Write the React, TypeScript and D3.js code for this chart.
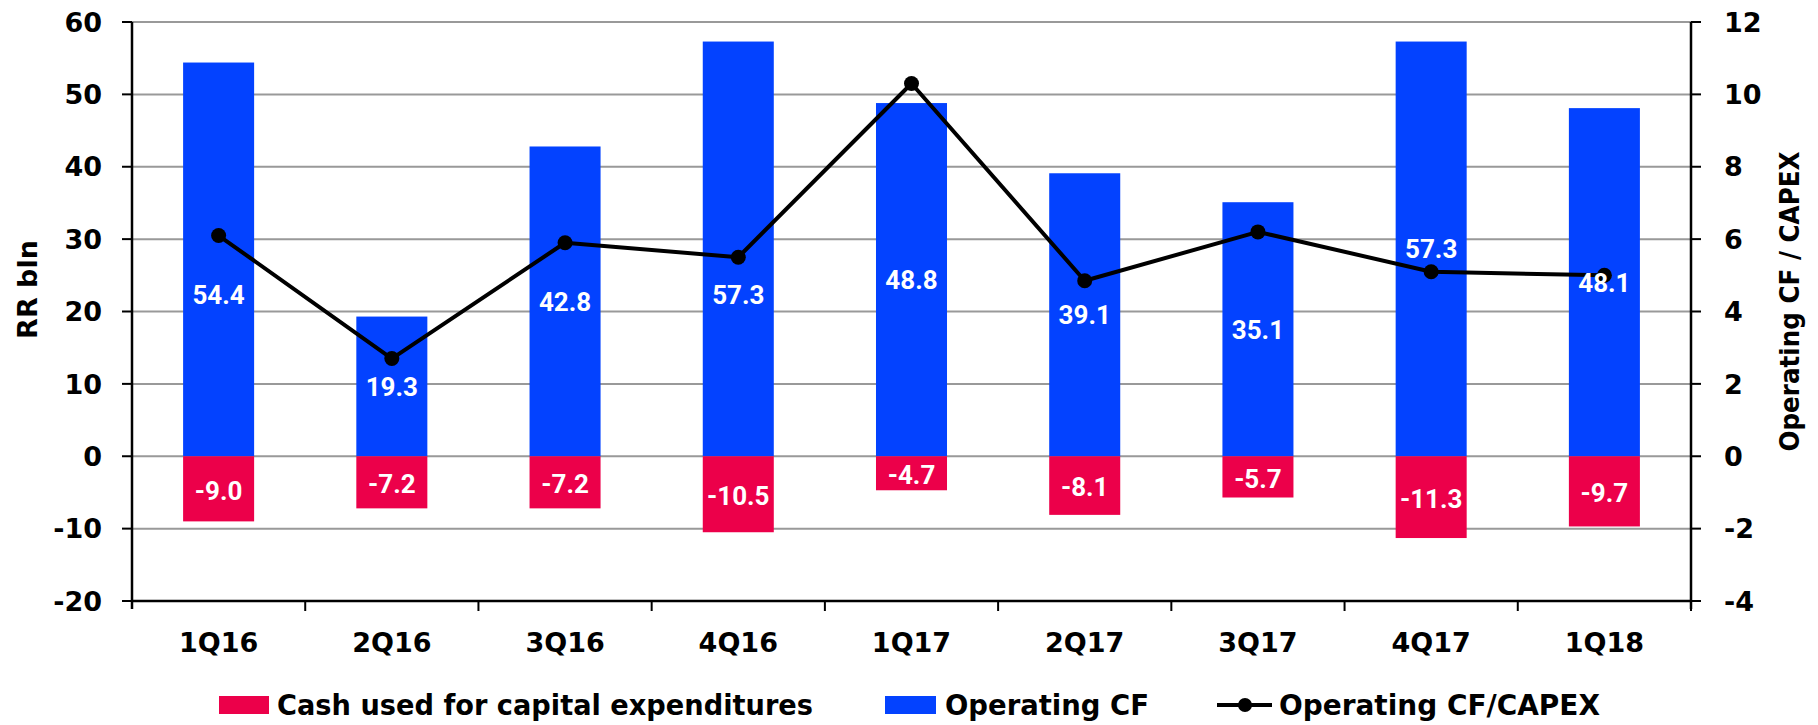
import React from "react";
import * as d3 from "d3";

const categories = ["1Q16", "2Q16", "3Q16", "4Q16", "1Q17", "2Q17", "3Q17", "4Q17", "1Q18"];
const operatingCF = [54.4, 19.3, 42.8, 57.3, 48.8, 39.1, 35.1, 57.3, 48.1];
const capex = [-9.0, -7.2, -7.2, -10.5, -4.7, -8.1, -5.7, -11.3, -9.7];
const ratio = [6.1, 2.7, 5.9, 5.5, 10.3, 4.85, 6.2, 5.1, 5.0];
const leftTicks = [-20, -10, 0, 10, 20, 30, 40, 50, 60];
const rightTicks = [-4, -2, 0, 2, 4, 6, 8, 10, 12];
// labels that were moved down off the line in the original (placed at this level, RR bln)
const nudgedLabels = ["1Q16", "4Q16"];
const nudgedLevel = 22.3;

const W = 1818;
const H = 725;
const L = 132;
const R = 1691;
const T = 22;
const B = 601;
const BLUE = "#0342FF";
const RED = "#EC004A";
const FONT = "'DejaVu Sans', sans-serif";
const LABEL_FONT = "Roboto, 'DejaVu Sans', sans-serif";

export default function App() {
  const x = d3.scaleBand<string>().domain(categories).range([L, R]).paddingInner(0.59).paddingOuter(0.295);
  const yL = d3.scaleLinear().domain([-20, 60]).range([B, T]);
  const yR = d3.scaleLinear().domain([-4, 12]).range([B, T]);
  const bw = x.bandwidth();
  const step = x.step();
  const cxOf = (c: string) => (x(c) as number) + bw / 2;
  const line = d3
    .line<number>()
    .x((_, i) => cxOf(categories[i]))
    .y((d) => yR(d));

  return (
    <svg width={W} height={H} style={{ position: "absolute", left: 0, top: 0, background: "#fff" }} fontFamily={FONT}>
      {/* gridlines */}
      {leftTicks.filter((t) => t !== -20).map((t) => (
        <line key={"g" + t} x1={L} x2={R} y1={yL(t)} y2={yL(t)} stroke="#999" strokeWidth={2} />
      ))}
      {/* bars */}
      {categories.map((c, i) => (
        <g key={c}>
          <rect x={x(c)} width={bw} y={yL(operatingCF[i])} height={yL(0) - yL(operatingCF[i])} fill={BLUE} />
          <rect x={x(c)} width={bw} y={yL(0)} height={yL(capex[i]) - yL(0)} fill={RED} />
        </g>
      ))}
      {/* line */}
      <path d={line(ratio) || ""} fill="none" stroke="#000" strokeWidth={4} strokeLinejoin="round" />
      {ratio.map((r, i) => (
        <circle key={"p" + i} cx={cxOf(categories[i])} cy={yR(r)} r={7.5} fill="#000" />
      ))}
      {/* data labels */}
      {categories.map((c, i) => {
        const cx = cxOf(c);
        const vPos = nudgedLabels.includes(c) ? nudgedLevel : operatingCF[i] / 2;
        return (
          <g key={"l" + c} fill="#fff" fontWeight="bold" fontSize={26} textAnchor="middle" fontFamily={LABEL_FONT}>
            <text x={cx} y={yL(vPos)} dy="0.36em">{operatingCF[i].toFixed(1)}</text>
            <text x={cx} y={yL(capex[i] / 2)} dy="0.42em">{capex[i].toFixed(1)}</text>
          </g>
        );
      })}
      {/* axes */}
      <line x1={L} x2={L} y1={T} y2={B + 8} stroke="#000" strokeWidth={2.5} />
      <line x1={R} x2={R} y1={T} y2={B + 8} stroke="#000" strokeWidth={2.5} />
      <line x1={L} x2={R} y1={B} y2={B} stroke="#000" strokeWidth={2.5} />
      {leftTicks.map((t) => (
        <g key={"lt" + t}>
          <line x1={L - 10} x2={L} y1={yL(t)} y2={yL(t)} stroke="#000" strokeWidth={2} />
          <text x={L - 30} y={yL(t)} dy="0.36em" textAnchor="end" fontWeight="bold" fontSize={27}>{t}</text>
        </g>
      ))}
      {rightTicks.map((t) => (
        <g key={"rt" + t}>
          <line x1={R} x2={R + 10} y1={yR(t)} y2={yR(t)} stroke="#000" strokeWidth={2} />
          <text x={R + 33} y={yR(t)} dy="0.36em" textAnchor="start" fontWeight="bold" fontSize={27}>{t}</text>
        </g>
      ))}
      {categories.map((c, i) => (
        <g key={"xt" + c}>
          <line x1={L + step * (i + 1)} x2={L + step * (i + 1)} y1={B} y2={B + 10} stroke="#000" strokeWidth={2} />
          <text x={cxOf(c)} y={B + 51} textAnchor="middle" fontWeight="bold" fontSize={27}>{c}</text>
        </g>
      ))}
      <text transform={`translate(28,${(T + B) / 2 - 22}) rotate(-90)`} textAnchor="middle" fontWeight="bold" fontSize={27} dy="0.35em">RR bln</text>
      <text transform={`translate(1790,${(T + B) / 2 - 10}) rotate(-90)`} textAnchor="middle" fontWeight="bold" fontSize={27} dy="0.35em" textLength={300} lengthAdjust="spacingAndGlyphs">Operating CF / CAPEX</text>
      {/* legend */}
      <g fontWeight="bold" fontSize={28}>
        <rect x={219} y={696} width={50} height={18} fill={RED} />
        <text x={277} y={715} textLength={536} lengthAdjust="spacingAndGlyphs">Cash used for capital expenditures</text>
        <rect x={885} y={696} width={51} height={18} fill={BLUE} />
        <text x={945} y={715} textLength={204} lengthAdjust="spacingAndGlyphs">Operating CF</text>
        <line x1={1217} x2={1272} y1={705} y2={705} stroke="#000" strokeWidth={4} />
        <circle cx={1245} cy={705} r={7} fill="#000" />
        <text x={1279} y={715} textLength={321} lengthAdjust="spacingAndGlyphs">Operating CF/CAPEX</text>
      </g>
    </svg>
  );
}
